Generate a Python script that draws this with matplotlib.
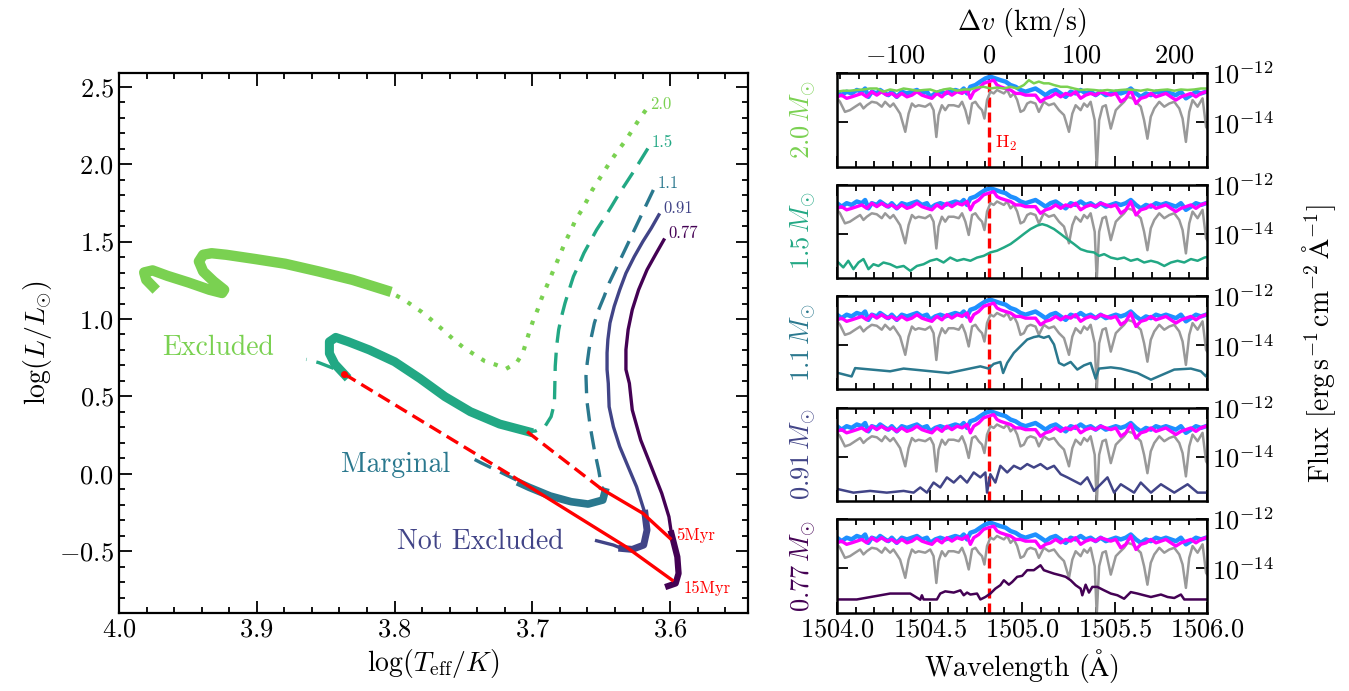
import numpy as np
import matplotlib
matplotlib.use('Agg')
import matplotlib.pyplot as plt
from matplotlib.ticker import MultipleLocator, FixedLocator, NullLocator

plt.rcParams['font.family'] = 'serif'
plt.rcParams['font.serif'] = ['cmr10', 'DejaVu Serif']
plt.rcParams['mathtext.fontset'] = 'cm'
plt.rcParams['axes.formatter.use_mathtext'] = True

# ---------------- HR diagram tracks (log Teff, log L) ----------------
t20_thin = [3.6177, 3.6229, 3.6275, 3.6321, 3.6376, 3.6427, 3.6473, 3.6519, 3.6565, 3.6602,
            3.6641, 3.6687, 3.6718, 3.6754, 3.6785, 3.6815, 3.6846, 3.6876, 3.6907, 3.6937,
            3.6962, 3.6992, 3.7017, 3.7047, 3.7069, 3.7115, 3.7191, 3.7267, 3.7344, 3.7420,
            3.7496, 3.7557, 3.7618, 3.7679, 3.7740, 3.7802, 3.7872, 3.7939, 3.8000, 3.8061]
l20_thin = [2.350, 2.285, 2.221, 2.156, 2.092, 2.027, 1.963, 1.898, 1.834, 1.769,
            1.705, 1.640, 1.576, 1.511, 1.447, 1.382, 1.318, 1.253, 1.189, 1.125,
            1.060, 0.996, 0.931, 0.845, 0.781, 0.716, 0.678, 0.705, 0.727, 0.770,
            0.813, 0.856, 0.905, 0.953, 1.000, 1.045, 1.088, 1.129, 1.157, 1.185]
t20_thick = [3.8061, 3.8305, 3.8550, 3.8794, 3.9008, 3.9221, 3.9328, 3.9389, 3.9420, 3.9389,
             3.9313, 3.9237, 3.9252, 3.9344, 3.9496, 3.9649, 3.9756, 3.9817, 3.9802, 3.9756]
l20_thick = [1.185, 1.253, 1.307, 1.357, 1.387, 1.415, 1.425, 1.415, 1.372, 1.307,
             1.243, 1.189, 1.168, 1.189, 1.236, 1.279, 1.314, 1.301, 1.253, 1.211]

t15_thin = [3.6162, 3.6214, 3.6266, 3.6321, 3.6376, 3.6427, 3.6479, 3.6534, 3.6580, 3.6626,
            3.6663, 3.6702, 3.6733, 3.6763, 3.6788, 3.6809, 3.6824, 3.6834, 3.6840, 3.6864,
            3.6907, 3.6977, 3.7029]
l15_thin = [2.102, 2.027, 1.952, 1.877, 1.802, 1.726, 1.651, 1.576, 1.501, 1.426,
            1.350, 1.275, 1.189, 1.103, 1.017, 0.931, 0.824, 0.695, 0.455, 0.369,
            0.308, 0.276, 0.272]
t15_thick = [3.7029, 3.7237, 3.7450, 3.7634, 3.7817, 3.8000, 3.8183, 3.8336, 3.8427, 3.8473,
             3.8473, 3.8434, 3.8382, 3.8360]
l15_thick = [0.272, 0.321, 0.401, 0.498, 0.616, 0.724, 0.800, 0.853, 0.881, 0.853,
             0.778, 0.709, 0.659, 0.638]
t15_tail = [3.8443, 3.8550, 3.8641]
l15_tail = [0.681, 0.718, 0.739]

t11_thin = [3.6122, 3.6168, 3.6214, 3.6260, 3.6305, 3.6351, 3.6397, 3.6443, 3.6479, 3.6519,
            3.6550, 3.6571, 3.6589, 3.6602, 3.6611, 3.6605, 3.6580, 3.6550, 3.6519, 3.6498,
            3.6473]
l11_thin = [1.834, 1.748, 1.662, 1.576, 1.490, 1.404, 1.318, 1.232, 1.146, 1.060,
            0.974, 0.888, 0.802, 0.716, 0.630, 0.476, 0.304, 0.153, 0.024, -0.084,
            -0.116]
t11_thick = [3.6473, 3.6489, 3.6595, 3.6718, 3.6870, 3.7023, 3.7084]
l11_thick = [-0.116, -0.170, -0.196, -0.181, -0.144, -0.088, -0.063]
t11_tail = [3.7115, 3.7252, 3.7374, 3.7481]
l11_tail = [-0.041, 0.019, 0.071, 0.121]

t091_thin = [3.6082, 3.6137, 3.6198, 3.6260, 3.6321, 3.6366, 3.6406, 3.6437, 3.6452, 3.6458,
             3.6458, 3.6449, 3.6443, 3.6412, 3.6366, 3.6305, 3.6244, 3.6198, 3.6183]
l091_thin = [1.673, 1.587, 1.501, 1.404, 1.296, 1.189, 1.082, 0.974, 0.867, 0.781,
             0.673, 0.584, 0.433, 0.304, 0.175, 0.045, -0.084, -0.213, -0.256]
t091_thick = [3.6183, 3.6168, 3.6192, 3.6275, 3.6351]
l091_thick = [-0.256, -0.364, -0.461, -0.489, -0.483]
t091_tail = [3.6351, 3.6412, 3.6534]
l091_tail = [-0.483, -0.461, -0.433]

t077_thin = [3.6046, 3.6101, 3.6168, 3.6229, 3.6275, 3.6305, 3.6321, 3.6321, 3.6296, 3.6275,
             3.6214, 3.6137, 3.6061, 3.6009, 3.5991]
l077_thin = [1.511, 1.425, 1.318, 1.189, 1.060, 0.931, 0.802, 0.673, 0.584, 0.412,
             0.218, 0.045, -0.127, -0.278, -0.386]
t077_thick = [3.5991, 3.5948, 3.5939, 3.5960, 3.6015]
l077_thick = [-0.386, -0.537, -0.644, -0.709, -0.726]

# isochrones
iso15_t = [3.8366, 3.7130, 3.6321, 3.5985]
iso15_l = [0.645, -0.024, -0.472, -0.688]
iso5_t = [3.7038, 3.6504, 3.6198, 3.6000]
iso5_l = [0.272, -0.095, -0.256, -0.418]

mass_names = ['2.0', '1.5', '1.1', '0.91', '0.77']
mass_colors = ['#7AD151', '#22A884', '#2A788E', '#414487', '#440154']

# ---------------- spectra (wavelength in A, log10 flux) ----------------
wl_gray = [1504.000, 1504.016, 1504.043, 1504.070, 1504.098, 1504.125, 1504.143, 1504.161, 1504.188, 1504.215,
           1504.242, 1504.260, 1504.287, 1504.305, 1504.323, 1504.341, 1504.369, 1504.387, 1504.405, 1504.423,
           1504.441, 1504.477, 1504.504, 1504.522, 1504.537, 1504.549, 1504.567, 1504.585, 1504.603, 1504.631,
           1504.658, 1504.676, 1504.694, 1504.712, 1504.730, 1504.748, 1504.766, 1504.784, 1504.797, 1504.811,
           1504.829, 1504.847, 1504.865, 1504.883, 1504.902, 1504.920, 1504.938, 1504.956, 1504.974, 1504.992,
           1505.010, 1505.028, 1505.046,
           1505.073, 1505.091, 1505.118, 1505.145, 1505.173, 1505.200, 1505.227, 1505.254, 1505.272, 1505.290,
           1505.317, 1505.335, 1505.353, 1505.371, 1505.393, 1505.404, 1505.417, 1505.435, 1505.453, 1505.480,
           1505.507, 1505.525, 1505.552, 1505.570, 1505.597, 1505.624, 1505.642, 1505.660, 1505.678, 1505.696,
           1505.715, 1505.742, 1505.769, 1505.796, 1505.823, 1505.850, 1505.868, 1505.886, 1505.904, 1505.922,
           1505.949, 1505.976, 1505.995, 1506.010]
lf_gray = [-13.03, -13.17, -13.58, -13.51, -13.37, -13.24, -13.44, -13.31, -13.17, -13.21,
           -13.37, -13.17, -13.37, -13.24, -13.44, -13.65, -14.39, -13.65, -13.24, -13.37,
           -13.31, -13.37, -13.24, -13.51, -14.60, -13.71, -13.31, -13.51, -13.31, -13.31,
           -13.37, -13.17, -13.51, -14.05, -13.24, -13.17, -13.37, -13.51, -13.85, -13.10,
           -12.76, -12.83, -12.69, -12.76, -12.83, -12.69, -12.97, -12.83, -13.10, -13.58,
           -13.51, -13.24, -13.17,
           -13.24, -13.58, -13.17, -13.31, -13.24, -13.51, -13.71, -14.39, -13.65, -13.31,
           -13.51, -13.24, -13.37, -13.17, -13.92, -15.90, -13.92, -13.37, -13.31, -14.26,
           -13.51, -13.37, -13.17, -12.97, -13.03, -13.24, -13.37, -13.92, -14.67, -13.78,
           -13.44, -13.17, -13.37, -13.24, -13.17, -13.44, -13.85, -14.80, -13.58, -13.10,
           -13.37, -13.03, -14.19, -14.35]

wl_blue = [1504.000, 1504.025, 1504.052, 1504.079, 1504.107, 1504.134, 1504.152, 1504.170, 1504.188, 1504.215,
           1504.233, 1504.260, 1504.278, 1504.296, 1504.323, 1504.350, 1504.378, 1504.405, 1504.432, 1504.459,
           1504.486, 1504.504, 1504.531, 1504.558, 1504.585, 1504.612, 1504.640, 1504.667, 1504.685, 1504.703,
           1504.721, 1504.748, 1504.775, 1504.802, 1504.829, 1504.856, 1504.883, 1504.911, 1504.938, 1504.965,
           1504.992, 1505.019,
           1505.073, 1505.100, 1505.127, 1505.154, 1505.182, 1505.209, 1505.236, 1505.263, 1505.290, 1505.317,
           1505.344, 1505.371, 1505.398, 1505.425, 1505.453, 1505.480, 1505.507, 1505.534, 1505.561, 1505.588,
           1505.616, 1505.642, 1505.670, 1505.697, 1505.724, 1505.751, 1505.778, 1505.805, 1505.832, 1505.859,
           1505.886, 1505.913, 1505.940, 1505.967, 1505.995]
lf_blue = [-12.76, -12.90, -12.76, -12.83, -12.69, -12.76, -12.63, -12.97, -12.76, -12.83,
           -12.69, -12.83, -12.90, -12.76, -12.97, -12.76, -12.83, -12.76, -12.69, -12.83,
           -12.76, -12.97, -12.83, -12.76, -12.83, -12.76, -12.69, -12.76, -12.63, -12.83,
           -12.56, -12.49, -12.35, -12.22, -12.15, -12.22, -12.29, -12.35, -12.49, -12.56,
           -12.69, -12.76,
           -12.63, -12.76, -12.90, -12.76, -12.69, -12.83, -12.97, -12.76, -12.83, -12.69,
           -12.83, -12.76, -12.90, -12.76, -12.90, -12.83, -12.76, -12.83, -12.76, -12.63,
           -12.83, -12.97, -12.83, -12.90, -12.76, -12.83, -12.76, -12.83, -12.90, -12.76,
           -13.03, -12.90, -12.76, -12.83, -12.76]

wl_mag = [1504.000, 1504.025, 1504.052, 1504.079, 1504.107, 1504.134, 1504.161, 1504.188, 1504.215, 1504.242,
          1504.269, 1504.296, 1504.323, 1504.350, 1504.378, 1504.405, 1504.432, 1504.459, 1504.486, 1504.513,
          1504.540, 1504.567, 1504.594, 1504.621, 1504.649, 1504.676, 1504.703, 1504.721, 1504.739, 1504.766,
          1504.793, 1504.820, 1504.847, 1504.865, 1504.883, 1504.911, 1504.938, 1504.965, 1504.992, 1505.019,
          1505.073, 1505.100, 1505.127, 1505.154, 1505.182, 1505.209, 1505.236, 1505.263, 1505.290, 1505.317,
          1505.344, 1505.371, 1505.398, 1505.425, 1505.453, 1505.480, 1505.507, 1505.534, 1505.561, 1505.588,
          1505.616, 1505.642, 1505.670, 1505.697, 1505.724, 1505.751, 1505.778, 1505.805, 1505.832, 1505.859,
          1505.886, 1505.913, 1505.940, 1505.967, 1505.995]
lf_mag = [-12.97, -12.90, -13.03, -12.97, -12.90, -12.83, -12.97, -12.76, -12.90, -12.76,
          -12.90, -12.83, -12.97, -12.83, -12.97, -12.90, -12.76, -12.90, -12.97, -13.03,
          -12.83, -12.97, -12.76, -12.90, -12.76, -12.83, -12.69, -13.03, -12.76, -12.63,
          -12.42, -12.35, -12.29, -12.49, -12.56, -12.63, -12.69, -12.83, -12.83, -12.90,
          -12.90, -13.17, -13.03, -12.97, -12.83, -12.97, -12.83, -12.90, -12.76, -13.03,
          -12.90, -12.83, -12.90, -12.76, -12.83, -12.90, -12.83, -13.17, -13.03, -12.69,
          -13.24, -13.03, -12.97, -12.83, -12.97, -12.90, -12.83, -12.97, -13.10, -12.97,
          -12.90, -12.83, -12.97, -12.83, -12.76]

# model spectra, one per stellar mass
wl_m20 = [1504.000, 1504.034, 1504.070, 1504.107, 1504.143, 1504.179, 1504.215, 1504.251, 1504.287, 1504.323,
          1504.360, 1504.396, 1504.432, 1504.468, 1504.504, 1504.540, 1504.576, 1504.612, 1504.649, 1504.685,
          1504.721, 1504.757, 1504.793, 1504.829, 1504.865, 1504.902, 1504.938, 1504.974, 1505.010,
          1505.037, 1505.064, 1505.091, 1505.118, 1505.145, 1505.173, 1505.209, 1505.245, 1505.281, 1505.317,
          1505.353, 1505.389, 1505.425, 1505.462, 1505.498, 1505.534, 1505.570, 1505.606, 1505.642, 1505.678,
          1505.715, 1505.751, 1505.787, 1505.823, 1505.859, 1505.895, 1505.931, 1505.967, 1505.995]
lf_m20 = [-12.76, -12.72, -12.72, -12.69, -12.67, -12.63, -12.63, -12.76, -12.67, -12.72,
          -12.63, -12.67, -12.72, -12.69, -12.67, -12.76, -12.67, -12.63, -12.72, -12.67,
          -12.67, -12.59, -12.56, -12.63, -12.59, -12.63, -12.56, -12.63, -12.49,
          -12.29, -12.42, -12.35, -12.42, -12.42, -12.49, -12.56, -12.56, -12.63, -12.69,
          -12.67, -12.69, -12.72, -12.69, -12.72, -12.69, -12.67, -12.69, -12.72, -12.67,
          -12.72, -12.69, -12.67, -12.72, -12.67, -12.69, -12.67, -12.63, -12.63]

wl_m15 = [1504.007, 1504.034, 1504.061, 1504.089, 1504.116, 1504.143, 1504.170, 1504.197, 1504.224, 1504.251,
          1504.287, 1504.323, 1504.360, 1504.396, 1504.432, 1504.468, 1504.504, 1504.540, 1504.576, 1504.612,
          1504.649, 1504.685, 1504.721, 1504.757, 1504.793, 1504.829, 1504.865, 1504.902, 1504.938, 1504.974,
          1505.010, 1505.046, 1505.082, 1505.109, 1505.136, 1505.173, 1505.209, 1505.245, 1505.281, 1505.317,
          1505.353, 1505.389, 1505.416, 1505.444, 1505.480, 1505.516, 1505.552, 1505.588, 1505.624, 1505.660,
          1505.697, 1505.733, 1505.769, 1505.805, 1505.841, 1505.877, 1505.913, 1505.949, 1505.986, 1506.004]
lf_m15 = [-15.17, -15.37, -15.10, -15.44, -15.17, -15.03, -15.44, -15.24, -15.31, -15.17,
          -15.24, -15.37, -15.31, -15.51, -15.31, -15.24, -15.10, -15.03, -15.17, -14.97,
          -15.10, -15.03, -15.10, -14.97, -14.90, -14.76, -14.69, -14.56, -14.42, -14.22,
          -14.01, -13.81, -13.67, -13.61, -13.67, -13.81, -14.01, -14.22, -14.42, -14.63,
          -14.72, -14.76, -14.90, -14.83, -14.97, -15.03, -14.97, -15.10, -15.03, -15.17,
          -15.10, -15.17, -15.31, -15.17, -15.10, -15.17, -15.03, -15.10, -14.97, -14.94]

wl_m11 = [1504.007, 1504.079, 1504.098, 1504.287, 1504.360, 1504.603, 1504.775, 1504.820, 1504.847, 1504.883,
          1504.898, 1504.920, 1504.956, 1504.992, 1505.028, 1505.064, 1505.091, 1505.118, 1505.145, 1505.173,
          1505.200, 1505.227, 1505.263, 1505.299, 1505.335, 1505.371, 1505.398, 1505.416, 1505.480, 1505.534,
          1505.624, 1505.697, 1505.823, 1505.913, 1505.967, 1505.995, 1506.007]
lf_m11 = [-15.13, -15.27, -14.93, -15.06, -14.95, -15.13, -14.86, -14.95, -14.76, -14.68,
          -15.13, -14.72, -14.31, -14.04, -13.77, -13.67, -13.63, -13.70, -13.63, -13.97,
          -14.72, -14.82, -14.68, -14.99, -14.82, -14.72, -15.36, -14.95, -14.90, -14.95,
          -15.13, -15.40, -14.99, -14.95, -15.06, -15.27, -15.03]

wl_m091 = [1504.007, 1504.089, 1504.179, 1504.269, 1504.360, 1504.414, 1504.450, 1504.486, 1504.522, 1504.558,
           1504.594, 1504.631, 1504.667, 1504.703, 1504.739, 1504.775, 1504.802, 1504.811, 1504.829, 1504.856,
           1504.883, 1504.920, 1504.956, 1504.992, 1505.028, 1505.064, 1505.100, 1505.136, 1505.173, 1505.209,
           1505.245, 1505.281, 1505.317, 1505.353, 1505.389, 1505.425, 1505.462, 1505.498, 1505.534, 1505.606,
           1505.642, 1505.697, 1505.751, 1505.823, 1505.895, 1505.949, 1506.004]
lf_m091 = [-15.32, -15.46, -15.39, -15.46, -15.39, -15.46, -15.25, -15.46, -15.05, -15.25,
           -14.84, -15.05, -14.78, -15.05, -14.64, -14.84, -14.64, -15.46, -14.71, -15.05,
           -14.37, -14.64, -14.37, -14.50, -14.30, -14.44, -14.30, -14.50, -14.37, -14.71,
           -14.84, -14.98, -15.12, -14.84, -15.39, -15.12, -14.84, -15.46, -15.12, -15.46,
           -15.05, -15.46, -15.12, -15.46, -15.12, -15.46, -15.46]

wl_m077 = [1504.000, 1504.107, 1504.287, 1504.396, 1504.450, 1504.459, 1504.468, 1504.540, 1504.558, 1504.585,
           1504.631, 1504.667, 1504.685, 1504.703, 1504.721, 1504.757, 1504.775, 1504.802, 1504.829, 1504.856,
           1504.883, 1504.902, 1504.929, 1504.947, 1504.974, 1505.001, 1505.028, 1505.064, 1505.100, 1505.118,
           1505.145, 1505.173, 1505.209, 1505.236, 1505.263, 1505.290, 1505.317, 1505.326, 1505.344, 1505.362,
           1505.380, 1505.407, 1505.444, 1505.480, 1505.516, 1505.552, 1505.588, 1505.624, 1505.660, 1505.697,
           1505.751, 1505.787, 1505.823, 1505.859, 1505.877, 1506.004]
lf_m077 = [-15.27, -15.27, -15.03, -15.03, -15.28, -15.10, -15.27, -15.27, -15.03, -14.94,
           -14.99, -14.90, -15.10, -14.99, -15.07, -15.03, -15.27, -15.17, -15.03, -14.83,
           -14.69, -14.49, -14.67, -14.56, -14.35, -14.31, -14.08, -14.08, -13.88, -14.08,
           -14.15, -14.22, -14.29, -14.35, -14.49, -14.69, -14.83, -15.10, -14.67, -14.99,
           -14.76, -14.76, -14.90, -15.03, -15.10, -15.24, -14.97, -15.03, -15.10, -15.17,
           -15.07, -15.17, -15.21, -15.07, -15.27, -15.27]

model_wl = [wl_m20, wl_m15, wl_m11, wl_m091, wl_m077]
model_lf = [lf_m20, lf_m15, lf_m11, lf_m091, lf_m077]

lam_h2 = 1504.82
c_kms = 299792.458

fig = plt.figure(figsize=(13.49, 6.91), dpi=100)

# ================= left: HR diagram =================
ax = fig.add_axes([0.0882, 0.1129, 0.4663, 0.7815])
c20, c15, c11, c091, c077 = mass_colors

ax.plot(t20_thin, l20_thin, color=c20, lw=3, ls=(0, (1, 2.2)))
ax.plot(t20_thick, l20_thick, color=c20, lw=7.5, solid_joinstyle='round')
ax.plot(t15_thin, l15_thin, color=c15, lw=2.4, ls=(0, (5.5, 3)))
ax.plot(t15_thick, l15_thick, color=c15, lw=6.5, solid_joinstyle='round')
ax.plot(t15_tail, l15_tail, color=c15, lw=2.4, ls=(0, (5.5, 3)))
ax.plot(t11_thin, l11_thin, color=c11, lw=2.4, ls=(0, (5.5, 3)))
ax.plot(t11_thick, l11_thick, color=c11, lw=5.5, solid_joinstyle='round')
ax.plot(t11_tail, l11_tail, color=c11, lw=2.4, ls=(0, (5.5, 3)))
ax.plot(t091_thin, l091_thin, color=c091, lw=2.4)
ax.plot(t091_thick, l091_thick, color=c091, lw=5, solid_joinstyle='round')
ax.plot(t091_tail, l091_tail, color=c091, lw=2.4)
ax.plot(t077_thin, l077_thin, color=c077, lw=2.4)
ax.plot(t077_thick, l077_thick, color=c077, lw=4.5, solid_joinstyle='round')

ax.plot(iso15_t[:2], iso15_l[:2], color='red', lw=2.4, ls=(0, (4, 2)))
ax.plot(iso15_t[1:], iso15_l[1:], color='red', lw=2.4)
ax.plot(iso5_t[:2], iso5_l[:2], color='red', lw=2.4, ls=(0, (4, 2)))
ax.plot(iso5_t[1:], iso5_l[1:], color='red', lw=2.4)
ax.plot(iso15_t[0], iso15_l[0], 'o', color='red', ms=4)

ax.text(iso5_t[-1] - 0.004, iso5_l[-1] + 0.02, '5Myr', color='red', fontsize=12, va='center')
ax.text(iso15_t[-1] - 0.008, iso15_l[-1] - 0.05, '15Myr', color='red', fontsize=12, va='center')

for name, col, tx, ly in zip(mass_names, mass_colors,
                             [t20_thin[0], t15_thin[0], t11_thin[0], t091_thin[0], t077_thin[0]],
                             [l20_thin[0], l15_thin[0], l11_thin[0], l091_thin[0], l077_thin[0]]):
    ax.text(tx - 0.003, ly + 0.04, name, color=col, fontsize=12, va='center')

ax.text(3.9686, 0.813, 'Excluded', color=c20, fontsize=20, va='center')
ax.text(3.839, 0.056, 'Marginal', color=c11, fontsize=20, va='center')
ax.text(3.7985, -0.440, 'Not Excluded', color=c091, fontsize=20, va='center')

ax.set_xlim(4.0, 3.5435)
ax.set_ylim(-0.9, 2.59)
ax.xaxis.set_major_locator(MultipleLocator(0.1))
ax.xaxis.set_minor_locator(MultipleLocator(0.02))
ax.yaxis.set_major_locator(MultipleLocator(0.5))
ax.yaxis.set_minor_locator(MultipleLocator(0.1))
ax.tick_params(which='both', direction='in', top=True, right=True, labelsize=19, width=1.3)
ax.tick_params(which='major', length=9)
ax.tick_params(which='minor', length=4.5)
for s in ax.spines.values():
    s.set_linewidth(1.6)
ax.set_xlabel(r'$\log(T_{\rm eff}/K)$', fontsize=20)
ax.set_ylabel(r'$\log(L/L_{\odot})$', fontsize=20)

# ================= right: spectra =================
tops = [73, 184.5, 296, 407.5, 519]
H = 691.0
ph = 93.5
axes = []
for i, top in enumerate(tops):
    a = fig.add_axes([837 / 1349, 1 - (top + ph) / H, 370 / 1349, ph / H])
    axes.append(a)
    a.plot(wl_gray, 10 ** np.array(lf_gray), color='#999999', lw=1.8)
    a.plot(wl_blue, 10 ** np.array(lf_blue), color='#1E90FF', lw=3.2)
    a.plot(wl_mag, 10 ** np.array(lf_mag), color='#FF00FF', lw=2.4)
    a.plot(model_wl[i], 10 ** np.array(model_lf[i]), color=mass_colors[i], lw=1.8)
    a.axvline(lam_h2, color='red', lw=2.4, ls=(0, (3, 1.5)), zorder=1.9)
    a.set_yscale('log')
    a.set_xlim(1504.0, 1506.0)
    a.set_ylim(10 ** -15.8, 1e-12)
    a.yaxis.set_major_locator(FixedLocator([1e-14, 1e-12]))
    a.yaxis.set_minor_locator(NullLocator())
    a.xaxis.set_major_locator(MultipleLocator(0.5))
    a.xaxis.set_minor_locator(MultipleLocator(0.1))
    a.tick_params(which='both', direction='in', top=(i > 0), bottom=True, left=True, right=True,
                  labelleft=False, labelright=True, labelbottom=(i == 4), labelsize=19, width=1.3)
    a.tick_params(which='major', length=8)
    a.tick_params(which='minor', length=4)
    for s in a.spines.values():
        s.set_linewidth(1.8)
    a.set_ylabel(mass_names[i] + r'$\,M_{\odot}$', color=mass_colors[i], fontsize=19, labelpad=14)

axes[0].text(1504.855, 10 ** -14.85, r'H$_2$', color='red', fontsize=13, va='center')
axes[-1].set_xlabel(r'Wavelength $(\mathrm{\AA})$', fontsize=20)

def lam2v(lam):
    return c_kms * (lam - lam_h2) / lam_h2

def v2lam(v):
    return lam_h2 * (1 + v / c_kms)

sec = axes[0].secondary_xaxis('top', functions=(lam2v, v2lam))
sec.set_xticks([-100, 0, 100, 200])
sec.xaxis.set_minor_locator(MultipleLocator(20))
sec.tick_params(which='both', direction='in', labelsize=19, width=1.3, pad=4)
sec.tick_params(which='major', length=8)
sec.tick_params(which='minor', length=4)
sec.set_xlabel(r'$\Delta v$ (km/s)', fontsize=20, labelpad=10)

fig.text(0.978, 0.503, r'Flux $[\mathrm{erg\,s^{-1}\,cm^{-2}\,\AA^{-1}}]$', rotation=90,
         fontsize=20, ha='center', va='center')

fig.savefig('out.png', dpi=100)
